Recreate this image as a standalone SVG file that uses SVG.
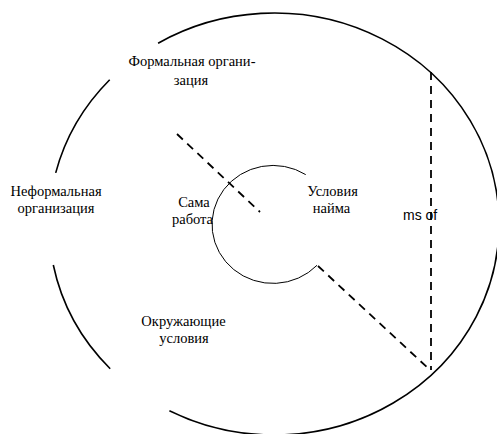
<svg xmlns="http://www.w3.org/2000/svg" width="497" height="434" viewBox="0 0 497 434">
  <style>
    .outer { fill: none; stroke: #000; stroke-width: 1.6; }
    .inner { fill: none; stroke: #000; stroke-width: 1; }
    .dash { fill: none; stroke: #000; stroke-width: 1.8; stroke-dasharray: 8 6; }
    .lbl { font-family: "Liberation Serif", "Times New Roman", serif; font-size: 14.5px; fill: #000; text-anchor: middle; }
    .note { font-family: "Liberation Sans", Arial, sans-serif; font-size: 14px; fill: #000; }
  </style>
  <rect width="497" height="434" fill="#fff"/>

  <!-- outer ring, broken where the side labels sit -->
  <g id="outer-ring">
    <path class="outer" d="M158.1,43.2 A225,211 0 1 1 169.4,410.8"/>
    <path class="outer" d="M109.7,79.8 A225,211 0 0 0 55.7,172.9"/>
    <path class="outer" d="M53.3,265 A225,211 0 0 0 110.2,368.7"/>
  </g>

  <!-- inner ring, open on the right -->
  <g id="inner-ring">
    <path class="inner" d="M305.7,174.6 A61,59 0 1 0 317,265.3"/>
  </g>

  <g id="connectors">
    <line class="dash" x1="177" y1="134" x2="260" y2="212"/>
    <line class="dash" x1="318" y1="266" x2="430" y2="370"/>
    <line class="dash" x1="431" y1="72" x2="431" y2="370"/>
  </g>

  <g id="formal">
    <text class="lbl" x="192" y="66">Формальная органи-</text>
    <text class="lbl" x="191" y="84.5">зация</text>
  </g>
  <g id="informal">
    <text class="lbl" x="56" y="195.5">Неформальная</text>
    <text class="lbl" x="56" y="213">организация</text>
  </g>
  <g id="work">
    <text class="lbl" x="194" y="206.5">Сама</text>
    <text class="lbl" x="192.5" y="224">работа</text>
  </g>
  <g id="employment">
    <text class="lbl" x="332.5" y="195.5">Условия</text>
    <text class="lbl" x="331.5" y="213">найма</text>
  </g>
  <g id="surroundings">
    <text class="lbl" x="183.5" y="325.5">Окружающие</text>
    <text class="lbl" x="184" y="343">условия</text>
  </g>
  <g id="note">
    <text class="note" x="403" y="219.5">ms of</text>
  </g>
</svg>
